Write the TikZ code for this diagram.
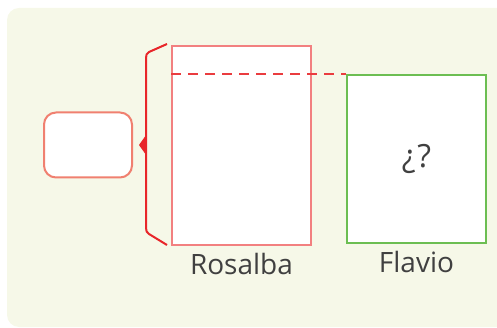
\documentclass[tikz,border=0pt]{standalone}
\usepackage{fontspec}
\setmainfont{Open Sans}
\usetikzlibrary{positioning, calc}
\definecolor{PaperBg}{RGB}{246,248,232}
\definecolor{RoseLine}{RGB}{242,128,128}
\definecolor{BraceRed}{RGB}{232,38,42}
\definecolor{SalmonLine}{RGB}{240,128,112}
\definecolor{LeafGreen}{RGB}{108,190,82}
\definecolor{TextGray}{RGB}{64,64,64}

\tikzset{
  barbox/.style={draw, fill=white, line width=2pt, inner sep=0pt},
  namelabel/.style={font=\fontsize{28}{32}\selectfont, text=TextGray}
}

\begin{document}
\begin{tikzpicture}[x=1pt, y=-1pt]
  \useasboundingbox (0,0) rectangle (497,328);
  % background card
  \fill[PaperBg, rounded corners=12pt] (7,8) rectangle (520,327);

  % the two bars
  \node[barbox, draw=RoseLine, minimum width=139pt, minimum height=199pt,
        anchor=north west] (rosalba) at (171,45) {};
  \node[barbox, draw=LeafGreen, minimum width=139pt, minimum height=168pt,
        anchor=south west] (flavio) at (346,244) {};
  \node[font=\fontsize{32}{36}\selectfont, text=TextGray] (ask) at (flavio.center) {¿\kern2pt?};

  % names
  \node[namelabel, anchor=north] (lblR) at ($(rosalba.south)+(0,4)$) {Rosalba};
  \node[namelabel, anchor=north] (lblF) at ($(flavio.south)+(0,4)$) {Flavio};

  % dashed level line
  \draw[BraceRed!90, line width=2pt, dash pattern=on 10pt off 7pt]
    (rosalba.west |- flavio.north) -- (flavio.north west);

  % brace
  \coordinate (tip) at (139,145);
  \draw[BraceRed, line width=2pt, line join=round]
    (167,44) -- (149,52) to[out=-160, in=90] (146,58) -- (146,228)
    to[out=-90, in=150] (149,234) -- (167,245);
  \fill[BraceRed] (146.8,134) -- (tip) -- (146.8,156) -- cycle;

  % empty answer box
  \node[draw=SalmonLine, fill=white, line width=2pt, rounded corners=12pt,
        minimum width=88pt, minimum height=65pt, inner sep=0pt,
        left=6pt of tip] (answer) {};
\end{tikzpicture}
\end{document}
